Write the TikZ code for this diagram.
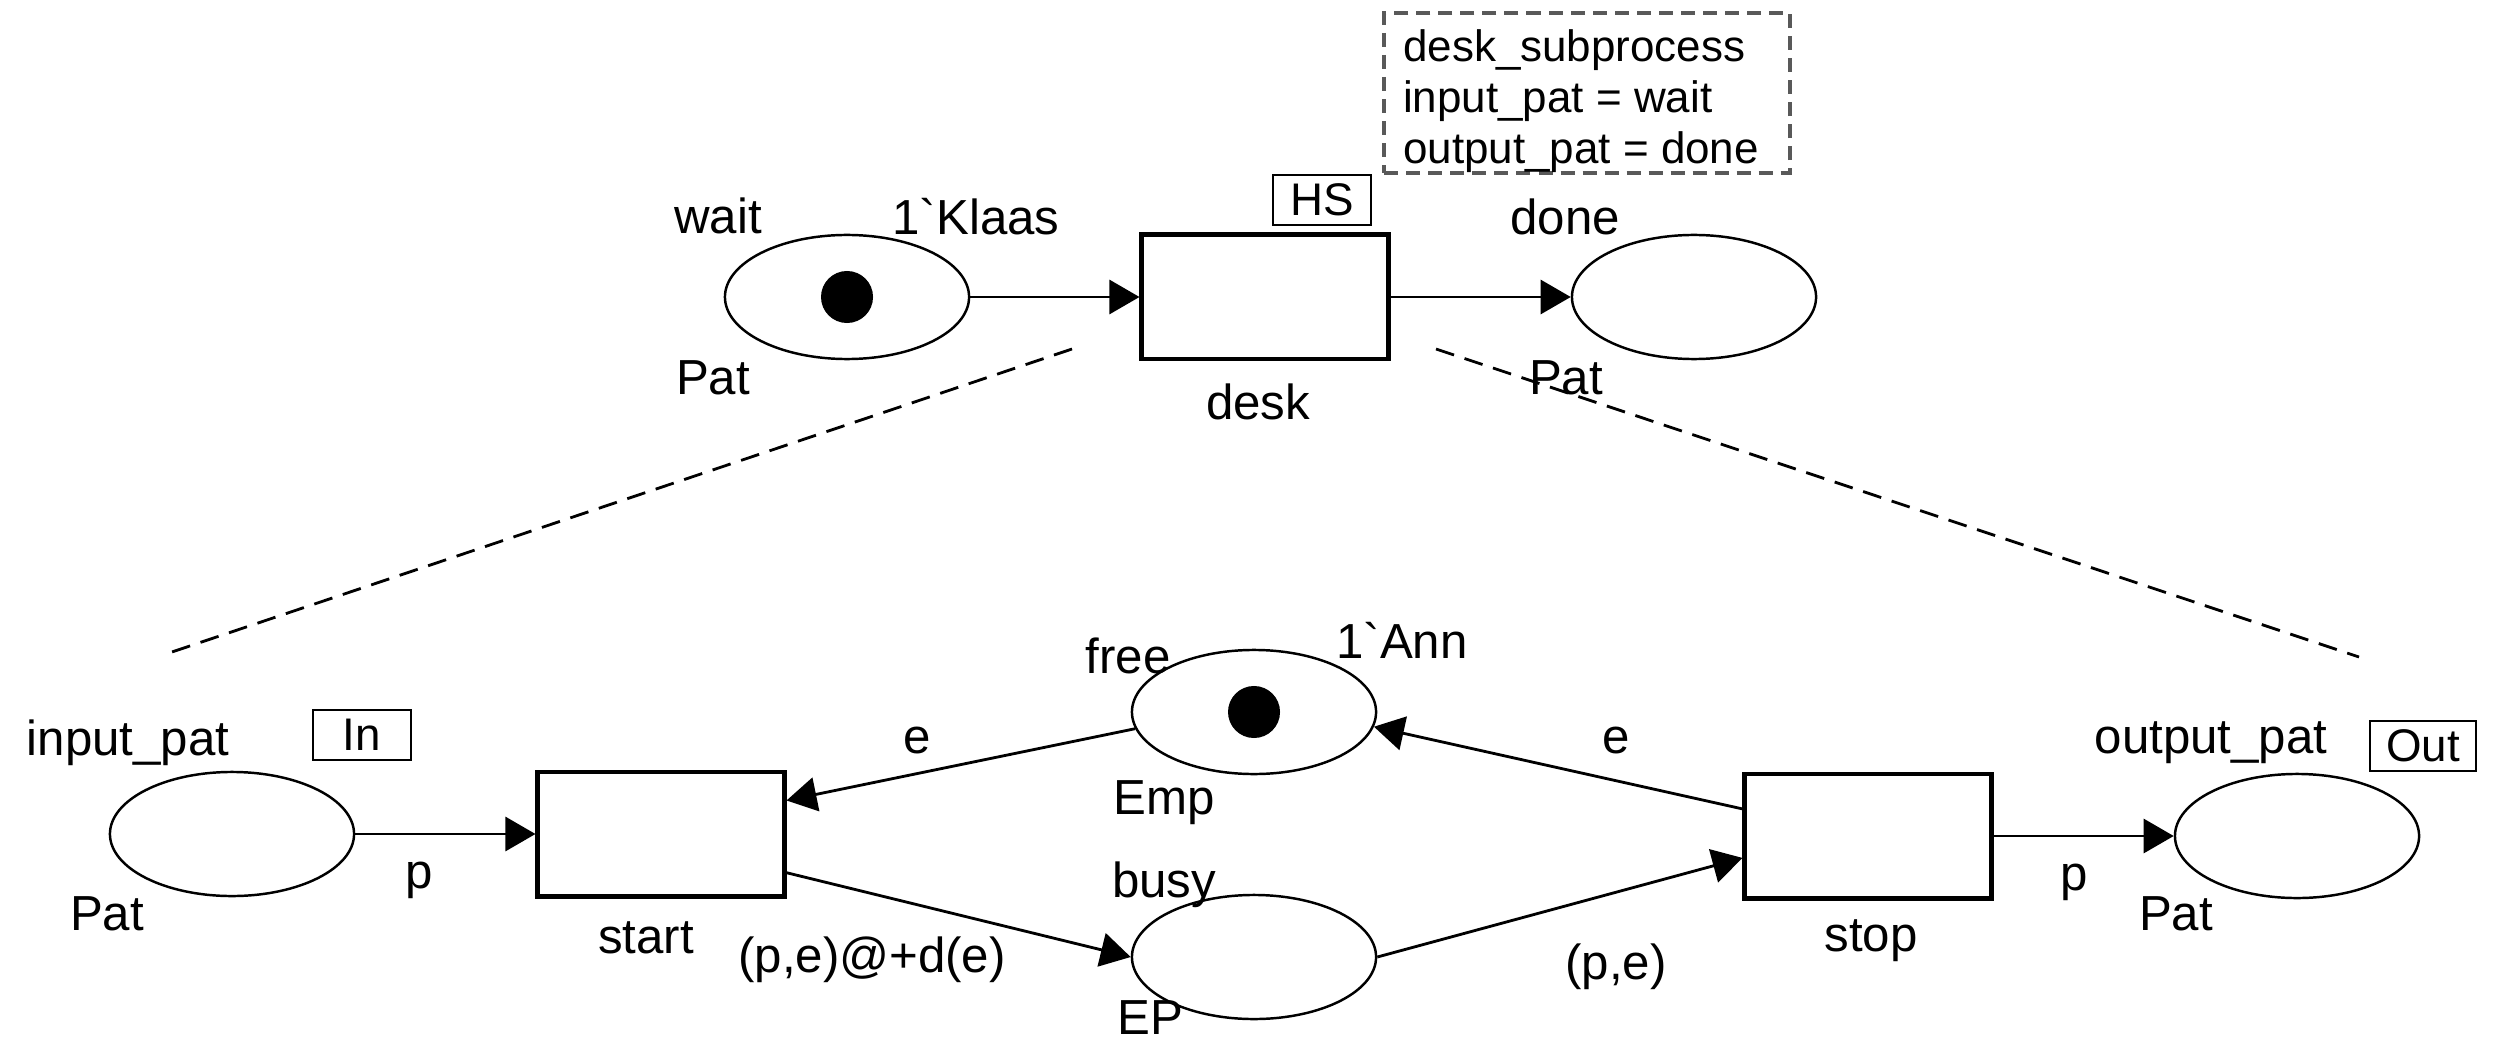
\documentclass[tikz,border=0pt]{standalone}
\usepackage{fontspec}
\setmainfont{Liberation Sans}[Ligatures=TeXOff]
\usetikzlibrary{shapes.geometric,arrows.meta,calc}

\begin{document}
\begin{tikzpicture}[x=0.01cm,y=-0.01cm,
  place/.style={ellipse,draw,line width=0.7pt,minimum width=2.44cm,minimum height=1.24cm,inner sep=0pt},
  trans/.style={rectangle,draw,line width=1.4pt,minimum width=2.46cm,minimum height=1.24cm,inner sep=0pt},
  token/.style={circle,fill=black,minimum size=0.52cm,inner sep=0pt},
  tag/.style={rectangle,draw,line width=0.8pt,minimum width=0.98cm,minimum height=0.5cm,inner sep=0pt,font=\fontsize{13}{15}\selectfont},
  lbl/.style={inner sep=0pt,font=\fontsize{14}{16}\selectfont},
  flow/.style={line width=0.8pt,-{Triangle[length=0.3cm,width=0.34cm]}},
  zoomline/.style={dash pattern=on 0.19cm off 0.11cm,line width=0.8pt},
]
\useasboundingbox (0,0) rectangle (2501,1046);

% ---------- top level: substitution transition ----------
\node[place] (wait) at (847,297) {};
\node[token] (waittok) at (wait.center) {};
\node[trans] (desk) at (1265,297) {};
\node[place] (done) at (1694,297) {};
\node[tag] (hs) at (1322,200) {HS};

% hierarchy inscription
\node[rectangle,draw=black!65,line width=1.1pt,dash pattern=on 0.14cm off 0.08cm,
      minimum width=4.05cm,minimum height=1.6cm,inner sep=0pt] (subst) at (1587,93) {};
\node[anchor=west,inner sep=0pt,align=left,font=\fontsize{12.5}{14.5}\selectfont]
  (substtext) at ([xshift=0.2cm,yshift=-0.08cm]subst.west)
  {desk\_subprocess\\input\_pat = wait\\output\_pat = done};

\node[lbl] (waitname) at (718,216) {wait};
\node[lbl] (waitinit) at (976,217) {1`Klaas};
\node[lbl] (waittype) at (713,378) {Pat};
\node[lbl] (deskname) at (1258,402) {desk};
\node[lbl] (donename) at (1565,217) {done};
\node[lbl] (donetype) at (1566,378) {Pat};

\draw[flow] (wait.east) -- (desk.west);
\draw[flow] (desk.east) -- (done.west);

% zoom-out guides to the subpage
\coordinate (zl1) at (1072,349);
\coordinate (zl2) at (166,654);
\coordinate (zr1) at (1436,349);
\coordinate (zr2) at (2359,657);
\draw[zoomline] (zl1) -- (zl2);
\draw[zoomline] (zr1) -- (zr2);

% ---------- subpage desk_subprocess ----------
\node[place] (inp) at (232,834) {};
\node[trans] (start) at (661,834) {};
\node[place] (free) at (1254,712) {};
\node[token] (freetok) at (free.center) {};
\node[place] (busy) at (1254,957) {};
\node[trans] (stop) at (1868,836) {};
\node[place] (outp) at (2297,836) {};
\node[tag] (intag) at (362,735) {In};
\node[tag,minimum width=1.06cm] (outtag) at (2423,746) {Out};

\node[lbl] (inpname) at (128,743) {input\_pat};
\node[lbl] (inptype) at (107,914) {Pat};
\node[lbl] (startname) at (646,938) {start};
\node[lbl] (freename) at (1128,656) {free};
\node[lbl] (freeinit) at (1402,640) {1`Ann};
\node[lbl] (freetype) at (1164,803) {Emp};
\node[lbl] (busyname) at (1164,885) {busy};
\node[lbl] (busytype) at (1150,1018) {EP};
\node[lbl] (stopname) at (1871,941) {stop};
\node[lbl] (outpname) at (2211,743) {output\_pat};
\node[lbl] (outptype) at (2176,914) {Pat};

% arc inscriptions
\node[lbl] (ip) at (419,880) {p};
\node[lbl] (ie1) at (917,740) {e};
\node[lbl] (ipe) at (872,960) {(p,e)@+d(e)};
\node[lbl] (ie2) at (1616,740) {e};
\node[lbl] (ipe2) at (1616,967) {(p,e)};
\node[lbl] (ip2) at (2074,882) {p};

% arcs
\draw[flow] (inp.east) -- (inp.east -| start.west);
\draw[flow] (free.188) -- ($(start.north east)!0.24!(start.south east)$);
\draw[flow] ($(start.north east)!0.80!(start.south east)$) -- (busy.west);
\draw[flow] (busy.east) -- ($(stop.north west)!0.67!(stop.south west)$);
\draw[flow] ($(stop.north west)!0.29!(stop.south west)$) -- (free.-7);
\draw[flow] (stop.east) -- (outp.west);
\end{tikzpicture}
\end{document}
